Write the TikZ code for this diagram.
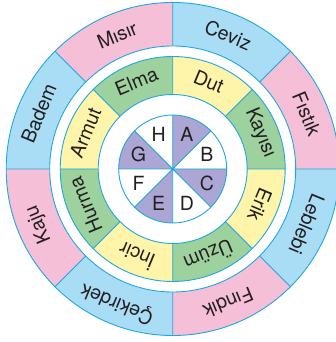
\documentclass[tikz,border=0pt]{standalone}
\usepackage{fontspec}
\setmainfont{TeX Gyre Heros}
\definecolor{rosa}{HTML}{F5BFD7}
\definecolor{celeste}{HTML}{A9DDF6}
\definecolor{verde}{HTML}{9DD19D}
\definecolor{giallo}{HTML}{FFF5AA}
\definecolor{viola}{HTML}{ABA6D3}
\definecolor{azzurro}{HTML}{1EA8E0}
\definecolor{inchiostro}{HTML}{231F20}
\begin{document}
\begin{tikzpicture}[x=1pt, y=1pt,
		bordo/.style={draw=azzurro, line width=0.9pt},
		testo/.style={color=inchiostro, font=\fontsize{19.5}{22}\selectfont, inner sep=0pt}]
		\useasboundingbox (-172.7,-173) rectangle (163.3,169);
		
		% anello esterno
		\fill[color=celeste] (0,0) circle (166.5);
		\fill[color=rosa] (0,0) -- (90:166.5) arc (90:135:166.5) -- cycle;
		\fill[color=rosa] (0,0) -- (0:166.5) arc (0:45:166.5) -- cycle;
		\fill[color=rosa] (0,0) -- (180:166.5) arc (180:225:166.5) -- cycle;
		\fill[color=rosa] (0,0) -- (270:166.5) arc (270:315:166.5) -- cycle;
		\fill[color=white] (0,0) circle (123);
		\draw[bordo] (0,0) circle (166.5) (0,0) circle (123);
		\draw[bordo] (0:123) -- (0:166.5) (45:123) -- (45:166.5) (90:123) -- (90:166.5) (135:123) -- (135:166.5)
			(180:123) -- (180:166.5) (225:123) -- (225:166.5) (270:123) -- (270:166.5) (315:123) -- (315:166.5);
		
		% anello medio
		\fill[color=giallo] (0,0) circle (112.5);
		\fill[color=verde] (0,0) -- (0:112.5) arc (0:45:112.5) -- cycle;
		\fill[color=verde] (0,0) -- (90:112.5) arc (90:135:112.5) -- cycle;
		\fill[color=verde] (0,0) -- (180:112.5) arc (180:225:112.5) -- cycle;
		\fill[color=verde] (0,0) -- (270:112.5) arc (270:315:112.5) -- cycle;
		\fill[color=white] (0,0) circle (74.5);
		\draw[bordo] (0,0) circle (112.5) (0,0) circle (74.5);
		\draw[bordo] (0:74.5) -- (0:112.5) (45:74.5) -- (45:112.5) (90:74.5) -- (90:112.5) (135:74.5) -- (135:112.5)
			(180:74.5) -- (180:112.5) (225:74.5) -- (225:112.5) (270:74.5) -- (270:112.5) (315:74.5) -- (315:112.5);
		
		% cerchio interno
		\fill[color=viola] (0,0) -- (45:54) arc (45:90:54) -- cycle;
		\fill[color=viola] (0,0) -- (-45:54) arc (-45:0:54) -- cycle;
		\fill[color=viola] (0,0) -- (225:54) arc (225:270:54) -- cycle;
		\fill[color=viola] (0,0) -- (135:54) arc (135:180:54) -- cycle;
		\coordinate (centro) at (0,0);
		\draw[bordo] (centro) circle (54);
		\draw[bordo] (0:54) -- (180:54) (45:54) -- (225:54) (90:54) -- (270:54) (135:54) -- (315:54);
		
		% etichette esterne
		\node[testo, rotate=22.5] (misir) at (112.5:145) {Mısır};
		\node[testo, rotate=-22.5] (ceviz) at (67.5:145) {Ceviz};
		\node[testo, rotate=-67.5] (fistik) at (22.5:145) {Fıstık};
		\node[testo, rotate=-112.5] (leblebi) at (-22.5:145) {Leblebi};
		\node[testo, rotate=-157.5] (findik) at (-67.5:145) {Fındık};
		\node[testo, rotate=157.5] (cekirdek) at (247.5:145) {Çekirdek};
		\node[testo, rotate=112.5] (kaju) at (202.5:145) {Kaju};
		\node[testo, rotate=67.5] (badem) at (157.5:145) {Badem};
		
		% etichette medie
		\node[testo, rotate=-22.5] (dut) at (67.5:94.5) {Dut};
		\node[testo, rotate=22.5] (elma) at (112.5:94.5) {Elma};
		\node[testo, rotate=67.5] (armut) at (157.5:94.5) {Armut};
		\node[testo, rotate=112.5] (hurma) at (202.5:94.5) {Hurma};
		\node[testo, rotate=157.5] (incir) at (247.5:94.5) {İncir};
		\node[testo, rotate=202.5] (uzum) at (292.5:94.5) {Üzüm};
		\node[testo, rotate=247.5] (erik) at (337.5:94.5) {Erik};
		\node[testo, rotate=-67.5] (kayisi) at (22.5:94.5) {Kayısı};
		
		% lettere
		\node[testo] (a) at (67.5:37) {A};
		\node[testo] (b) at (22.5:37) {B};
		\node[testo] (c) at (-22.5:37) {C};
		\node[testo] (d) at (-67.5:37) {D};
		\node[testo] (e) at (247.5:37) {E};
		\node[testo] (f) at (202.5:37) {F};
		\node[testo] (g) at (157.5:37) {G};
		\node[testo] (h) at (112.5:37) {H};
		
	\end{tikzpicture}
\end{document}
